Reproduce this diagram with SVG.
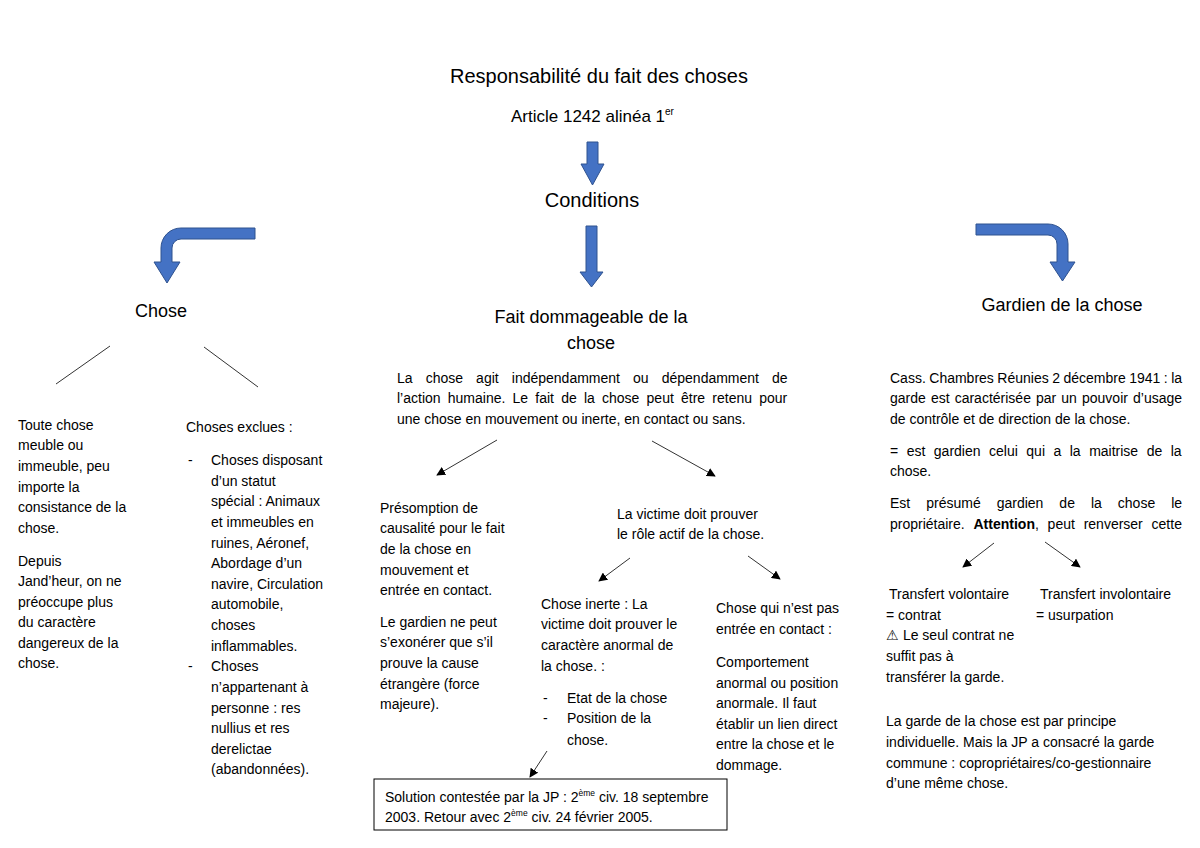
<svg xmlns="http://www.w3.org/2000/svg" width="1200" height="848" viewBox="0 0 1200 848">
<style>
text{font-family:"Liberation Sans",Arial,sans-serif;fill:#000}
.b{font-size:14px}
.h{font-size:18px;text-anchor:middle}
.t{font-size:20px;text-anchor:middle}
.blk{fill:#4472C4;stroke:#2F528F;stroke-width:1}
.ln{stroke:#333;stroke-width:1;fill:none}
.ar{stroke:#333;stroke-width:1;fill:none;marker-end:url(#ah)}
.box{fill:#fff;stroke:#000;stroke-width:1}
.sup{font-size:8.5px}
</style>
<defs>
<marker id="ah" viewBox="0 0 10 10" refX="9" refY="5" markerWidth="9" markerHeight="9" markerUnits="userSpaceOnUse" orient="auto">
<path d="M0,0 L10,5 L0,10 Z" fill="#000"/>
</marker>
</defs>
<rect width="1200" height="848" fill="#fff"/>

<g id="title">
<text class="t" x="599" y="83">Responsabilité du fait des choses</text>
<text x="511" y="122" style="font-size:17px">Article 1242 alinéa 1<tspan dy="-7" style="font-size:10px">er</tspan></text>
<text class="t" x="592" y="207">Conditions</text>
</g>

<g id="connectors">
<path class="blk" d="M587,142 H598 V164 H604 L592.5,185 L581,164 H587 Z"/>
<path class="blk" d="M586,226 H597 V272 H603 L591.5,287 L580,272 H586 Z"/>
<path class="blk" d="M255,228 H181 A20,20 0 0 0 161,248 V262 H154 L167,283 L180,262 H172 V248 A9,9 0 0 1 181,239 H255 Z"/>
<path class="blk" d="M976,224 H1048 A20,20 0 0 1 1068,244 V262 H1075 L1062.5,281 L1050,262 H1057 V244 A9,9 0 0 0 1048,235 H976 Z"/>
<line class="ln" x1="110" y1="346" x2="56" y2="384"/>
<line class="ln" x1="204" y1="347" x2="258" y2="387"/>
<line class="ar" x1="497" y1="440" x2="437" y2="475"/>
<line class="ar" x1="652" y1="441" x2="715" y2="476"/>
<line class="ar" x1="630" y1="558" x2="599" y2="581"/>
<line class="ar" x1="748" y1="556" x2="780" y2="579"/>
<line class="ar" x1="547" y1="751" x2="530" y2="777"/>
<line class="ar" x1="994" y1="543" x2="963" y2="567"/>
<line class="ar" x1="1045" y1="542" x2="1080" y2="567"/>
</g>

<g id="chose">
<text class="h" x="161" y="317">Chose</text>
</g>

<g id="chose-meuble">
<text class="b" x="18" y="430">Toute chose</text>
<text class="b" x="18" y="450">meuble ou</text>
<text class="b" x="18" y="471">immeuble, peu</text>
<text class="b" x="18" y="492">importe la</text>
<text class="b" x="18" y="512">consistance de la</text>
<text class="b" x="18" y="533">chose.</text>
<text class="b" x="18" y="566">Depuis</text>
<text class="b" x="18" y="586">Jand’heur, on ne</text>
<text class="b" x="18" y="607">préoccupe plus</text>
<text class="b" x="18" y="627">du caractère</text>
<text class="b" x="18" y="648">dangereux de la</text>
<text class="b" x="18" y="668">chose.</text>
</g>

<g id="choses-exclues">
<text class="b" x="186" y="432">Choses exclues :</text>
<text class="b" x="188" y="465">-</text>
<text class="b" x="211" y="465">Choses disposant</text>
<text class="b" x="211" y="486">d’un statut</text>
<text class="b" x="211" y="506">spécial : Animaux</text>
<text class="b" x="211" y="527">et immeubles en</text>
<text class="b" x="211" y="548">ruines, Aéronef,</text>
<text class="b" x="211" y="568">Abordage d’un</text>
<text class="b" x="211" y="589">navire, Circulation</text>
<text class="b" x="211" y="609">automobile,</text>
<text class="b" x="211" y="630">choses</text>
<text class="b" x="211" y="651">inflammables.</text>
<text class="b" x="188" y="671">-</text>
<text class="b" x="211" y="671">Choses</text>
<text class="b" x="211" y="692">n’appartenant à</text>
<text class="b" x="211" y="713">personne : res</text>
<text class="b" x="211" y="733">nullius et res</text>
<text class="b" x="211" y="754">derelictae</text>
<text class="b" x="211" y="774">(abandonnées).</text>
</g>

<g id="fait-dommageable">
<text class="h" x="591" y="323">Fait dommageable de la</text>
<text class="h" x="591" y="349">chose</text>
<text class="b" x="397" y="383" word-spacing="9.2">La chose agit indépendamment ou dépendamment de</text>
<text class="b" x="397" y="403" word-spacing="3.3">l’action humaine. Le fait de la chose peut être retenu pour</text>
<text class="b" x="397" y="424">une chose en mouvement ou inerte, en contact ou sans.</text>
</g>

<g id="presomption">
<text class="b" x="380" y="513">Présomption de</text>
<text class="b" x="380" y="533">causalité pour le fait</text>
<text class="b" x="380" y="554">de la chose en</text>
<text class="b" x="380" y="575">mouvement et</text>
<text class="b" x="380" y="595">entrée en contact.</text>
<text class="b" x="380" y="627">Le gardien ne peut</text>
<text class="b" x="380" y="647">s’exonérer que s’il</text>
<text class="b" x="380" y="668">prouve la cause</text>
<text class="b" x="380" y="689">étrangère (force</text>
<text class="b" x="380" y="709">majeure).</text>
</g>

<g id="victime">
<text class="b" x="617" y="519">La victime doit prouver</text>
<text class="b" x="617" y="539">le rôle actif de la chose.</text>
</g>

<g id="chose-inerte">
<text class="b" x="541" y="609">Chose inerte : La</text>
<text class="b" x="541" y="629">victime doit prouver le</text>
<text class="b" x="541" y="650">caractère anormal de</text>
<text class="b" x="541" y="671">la chose. :</text>
<text class="b" x="543" y="703">-</text>
<text class="b" x="567" y="703">Etat de la chose</text>
<text class="b" x="543" y="723">-</text>
<text class="b" x="567" y="723">Position de la</text>
<text class="b" x="567" y="745">chose.</text>
</g>

<g id="chose-sans-contact">
<text class="b" x="716" y="613">Chose qui n’est pas</text>
<text class="b" x="716" y="634">entrée en contact :</text>
<text class="b" x="716" y="667">Comportement</text>
<text class="b" x="716" y="688">anormal ou position</text>
<text class="b" x="716" y="708">anormale. Il faut</text>
<text class="b" x="716" y="729">établir un lien direct</text>
<text class="b" x="716" y="749">entre la chose et le</text>
<text class="b" x="716" y="770">dommage.</text>
</g>

<g id="solution">
<rect class="box" x="374" y="779" width="353" height="51"/>
<text class="b" x="385" y="802">Solution contestée par la JP : 2<tspan class="sup" dy="-6">ème</tspan><tspan dy="6"> civ. 18 septembre</tspan></text>
<text class="b" x="385" y="822">2003. Retour avec 2<tspan class="sup" dy="-6">ème</tspan><tspan dy="6"> civ. 24 février 2005.</tspan></text>
</g>

<g id="gardien">
<text class="h" x="1062" y="311">Gardien de la chose</text>
<text class="b" x="890" y="383" word-spacing="-0.4">Cass. Chambres Réunies 2 décembre 1941 : la</text>
<text class="b" x="890" y="403" word-spacing="1.2">garde est caractérisée par un pouvoir d’usage</text>
<text class="b" x="890" y="424">de contrôle et de direction de la chose.</text>
<text class="b" x="890" y="456" word-spacing="4.6">= est gardien celui qui a la maitrise de la</text>
<text class="b" x="890" y="476">chose.</text>
<text class="b" x="890" y="508" word-spacing="12.1">Est présumé gardien de la chose le</text>
<text class="b" x="890" y="529" word-spacing="4.9">propriétaire. <tspan font-weight="bold">Attention</tspan>, peut renverser cette</text>
</g>

<g id="transfert-volontaire">
<text class="b" x="889" y="599">Transfert volontaire</text>
<text class="b" x="886" y="620">= contrat</text>
<text class="b" x="886" y="640">⚠ Le seul contrat ne</text>
<text class="b" x="886" y="661">suffit pas à</text>
<text class="b" x="886" y="682">transférer la garde.</text>
</g>

<g id="transfert-involontaire">
<text class="b" x="1040" y="599">Transfert involontaire</text>
<text class="b" x="1036" y="620">= usurpation</text>
</g>

<g id="garde-commune">
<text class="b" x="886" y="726">La garde de la chose est par principe</text>
<text class="b" x="886" y="747">individuelle. Mais la JP a consacré la garde</text>
<text class="b" x="886" y="768">commune : copropriétaires/co-gestionnaire</text>
<text class="b" x="886" y="788">d’une même chose.</text>
</g>
</svg>
